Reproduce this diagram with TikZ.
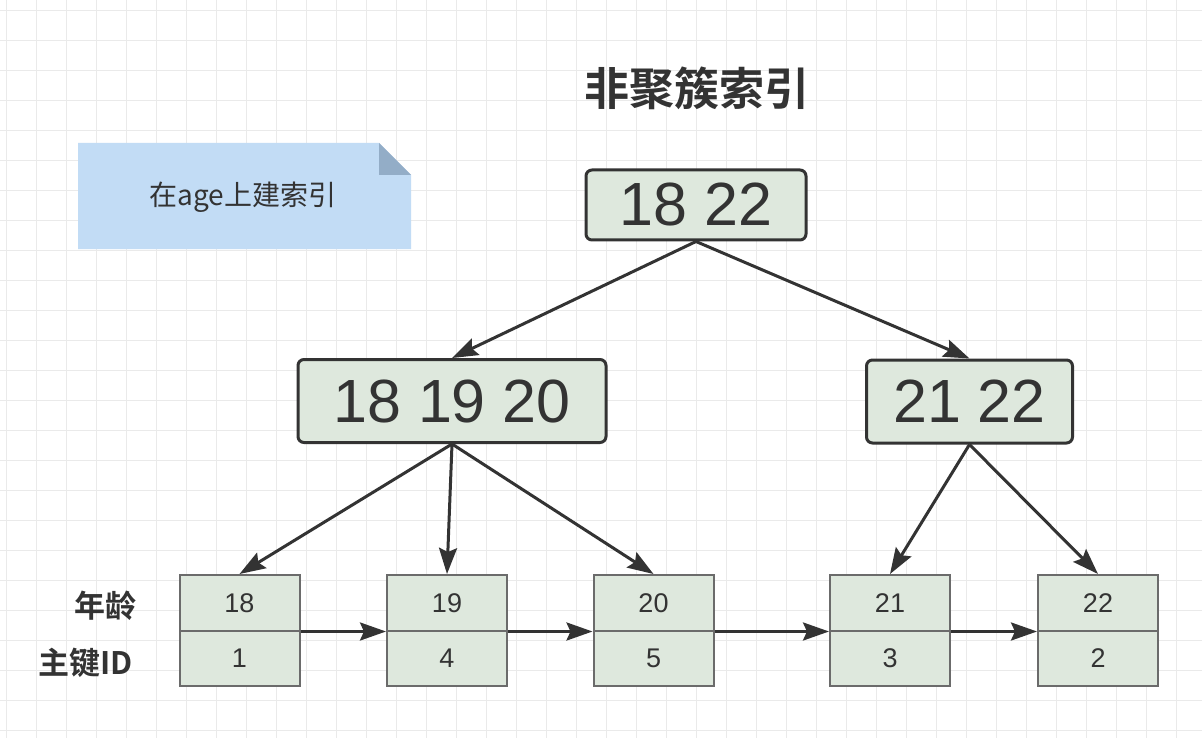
\documentclass[tikz,border=0pt]{standalone}
\usepackage{fontspec}
\setmainfont{Liberation Sans}
\newfontfamily\cjk[BoldFont={Noto Sans CJK SC Bold}]{Noto Sans CJK SC}
\usetikzlibrary{arrows.meta}
\definecolor{ink}{HTML}{333333}
\definecolor{nodefill}{HTML}{DEE8DD}
\definecolor{leafline}{HTML}{6B6B6B}
\definecolor{gridc}{HTML}{EAEAEA}
\definecolor{notefill}{HTML}{C2DCF5}
\definecolor{notefold}{HTML}{93ADC7}
\tikzset{
  gridline/.style={draw=gridc, line width=1.5pt},
  inner/.style={draw=ink, fill=nodefill, line width=3pt, rounded corners=6pt, text=ink,
    font=\fontsize{61}{61}\selectfont, inner sep=0pt},
  leafcell/.style={draw=leafline, fill=nodefill, line width=2pt, minimum width=120pt,
    minimum height=55.5pt, text=ink, font=\fontsize{27}{27}\selectfont, inner sep=0pt},
  arr/.style={draw=ink, line width=3pt, -{Stealth[length=26pt,width=18pt,inset=4pt]}},
  lbl/.style={text=ink, font=\cjk\bfseries\fontsize{31}{31}\selectfont, inner sep=0pt, anchor=east},
}
\begin{document}
\begin{tikzpicture}[x=1pt,y=-1pt]
\useasboundingbox (0,0) rectangle (1202,738);
\fill[white] (0,0) rectangle (1202,738);
% grid
\foreach \i in {0,...,40} {
  \draw[gridline] ({6.7+30*\i},0) -- ({6.7+30*\i},738);
}
\foreach \j in {0,...,24} {
  \draw[gridline] (0,{10.5+30*\j}) -- (1202,{10.5+30*\j});
}
% title
\node[text=ink, font=\cjk\bfseries\fontsize{45}{45}\selectfont] (title) at (697,88) {非聚簇索引};
% note
\fill[notefill] (78,143) -- (379,143) -- (411,175) -- (411,249) -- (78,249) -- cycle;
\fill[notefold] (379,143) -- (379,175) -- (411,175) -- cycle;
\node[text=ink, font=\cjk\fontsize{28}{28}\selectfont] (note) at (243,197) {在age上建索引};
% inner nodes
\node[inner, minimum width=220pt, minimum height=70pt] (top) at (696,205) {18 22};
\node[inner, minimum width=308pt, minimum height=83pt] (midL) at (452,401) {18 19 20};
\node[inner, minimum width=206pt, minimum height=83pt] (midR) at (969.5,401.5) {21 22};
% leaves
\foreach \n/\x/\a/\b in {1/239.5/18/1, 2/447/19/4, 3/653.5/20/5, 4/890/21/3, 5/1098/22/2} {
  \node[leafcell] (leaf\n t) at (\x,602.75) {\a};
  \node[leafcell] (leaf\n b) at (\x,658.25) {\b};
}
% labels
\node[lbl] (lage) at (137,606) {年龄};
\node[lbl] (lid) at (133,663) {主键ID};
% tree arrows
\draw[arr] (top.south) -- (midL.north);
\draw[arr] (top.south) -- (midR.north);
\draw[arr] (midL.south) -- (leaf1t.north);
\draw[arr] (midL.south) -- (leaf2t.north);
\draw[arr] (midL.south) -- (leaf3t.north);
\draw[arr] (midR.south) -- (leaf4t.north);
\draw[arr] (midR.south) -- (leaf5t.north);
% leaf chain
\draw[arr] (leaf1t.south east) -- (leaf2t.south west);
\draw[arr] (leaf2t.south east) -- (leaf3t.south west);
\draw[arr] (leaf3t.south east) -- (leaf4t.south west);
\draw[arr] (leaf4t.south east) -- (leaf5t.south west);
\end{tikzpicture}
\end{document}
